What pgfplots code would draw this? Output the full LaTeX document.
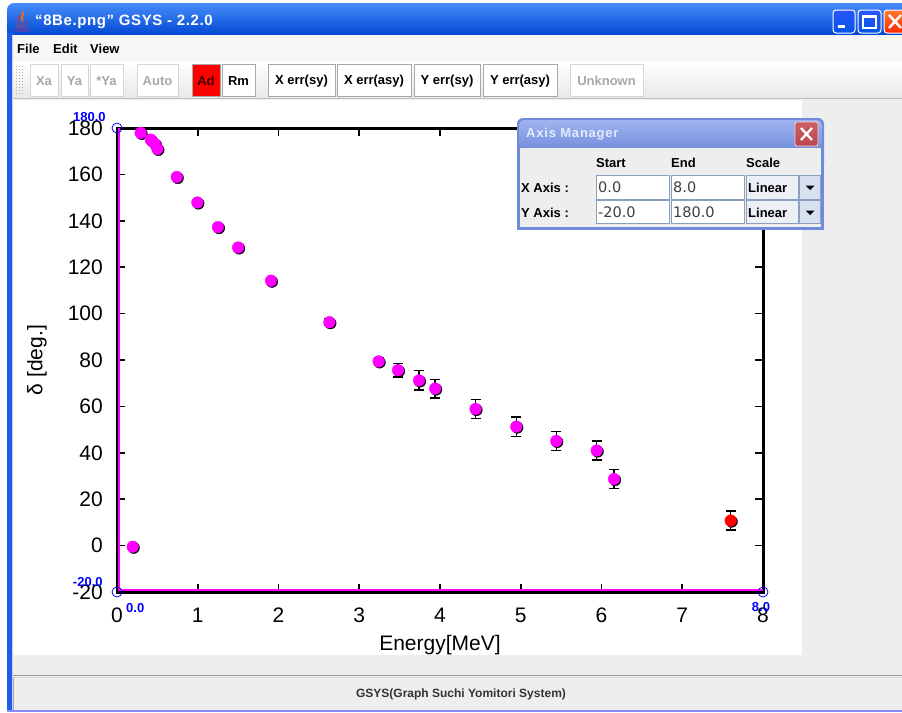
\documentclass[border=0pt]{standalone}
\usepackage{pgfplots}
\pgfplotsset{compat=1.18}
\usepackage{pgfplotstable}
\usepackage{fontspec}
\setmainfont{Liberation Sans}
\newfontfamily\dejavu{DejaVu Sans}
\newfontfamily\spaced[LetterSpace=6]{Liberation Sans}
\newfontfamily\titlefont[LetterSpace=4]{Liberation Sans}
\newcommand\fs[1]{\fontsize{#1}{#1}\selectfont}
\definecolor{tbA}{RGB}{70,140,250}
\definecolor{tbB}{RGB}{0,86,230}
\definecolor{tbC}{RGB}{2,72,210}
\definecolor{winbd}{RGB}{28,92,230}
\definecolor{guigrey}{RGB}{238,238,238}
\definecolor{txdis}{RGB}{168,168,168}
\definecolor{bddis}{RGB}{214,214,214}
\definecolor{bden}{RGB}{168,168,168}
\definecolor{txad}{RGB}{60,0,0}
\definecolor{dlgA}{RGB}{160,180,238}
\definecolor{dlgB}{RGB}{118,144,222}
\definecolor{dlgbd}{RGB}{112,138,220}
\definecolor{dlgtitle}{RGB}{228,236,252}
\definecolor{fieldbd}{RGB}{140,160,190}
\definecolor{combo}{RGB}{236,240,246}
\definecolor{arrowbg}{RGB}{214,224,240}
\definecolor{closeA}{RGB}{205,95,100}
\definecolor{closeB}{RGB}{185,70,80}
\definecolor{pink}{RGB}{255,0,255}

\pgfplotstableread{
x y
0.194 -0.5
0.293 177.9
0.417 175.0
0.470 173.1
0.500 171.0
0.740 158.9
0.995 147.9
1.250 137.3
1.500 128.5
1.907 114.2
}\plainpts
\pgfplotstableread{
x y e
2.630 96.3 1.5
3.240 79.4 1.5
3.480 75.6 3.0
3.740 71.2 4.2
3.940 67.7 4.0
4.440 58.9 4.1
4.945 51.3 4.2
5.440 45.1 4.1
5.940 41.0 4.0
6.155 28.7 4.0
}\errpts
\pgfplotstableread{
x y e
7.600 10.8 4.1
}\redpts

\begin{document}
\begin{tikzpicture}
\useasboundingbox (0pt,0pt) rectangle (902pt,-712pt);
\begin{scope}[x=1pt,y=-1pt]
  \fill[white] (0,0) rectangle (902,712);
  % title bar
  \shade[top color=tbA, middle color=tbB, bottom color=tbC]
    (7,35) [rounded corners=7pt] -- (7,3) -- (910,3) [sharp corners] -- (910,35) -- cycle;
  % icon
  \fill[blue!35!gray] (15,22) -- (28,22) -- (26,29) -- (17,29) -- cycle;
  \fill[blue!45!gray] (22,30) ellipse [x radius=9, y radius=2];
  \draw[blue!35!gray, line width=1pt] (28,24) arc[start angle=-90, end angle=90, radius=-2];
  \fill[orange!85!red] (21,11) .. controls (25,15) and (18,17) .. (22,21) -- (23.5,21) .. controls (20,17) and (27,15) .. (22.5,11) -- cycle;
  \fill[red!80!orange] (18,15) .. controls (20,17) and (17,19) .. (19,21) -- (20,21) .. controls (18,19) and (21,17) .. (19,15) -- cycle;
  \node[anchor=west, inner sep=0, text=white, font=\fs{15}\titlefont\bfseries] at (35,22) {“8Be.png” GSYS - 2.2.0};
  % window buttons
  \shade[top color=blue!40!tbA, bottom color=tbB, draw=white, line width=1pt, rounded corners=3pt] (833,10) rectangle (855,33);
  \fill[white] (838,25) rectangle (845,28);
  \shade[top color=blue!40!tbA, bottom color=tbB, draw=white, line width=1pt, rounded corners=3pt] (858,10) rectangle (881,33);
  \draw[white, line width=1.2pt] (863,16) rectangle (876,28);
  \fill[white] (863,15.5) rectangle (876,18);
  \shade[top color=orange!70!red!80, bottom color=red!70!orange, draw=white, line width=1pt, rounded corners=3pt] (884,10) rectangle (908,33);
  \draw[white, line width=2.4pt] (889,15) -- (901,28) (901,15) -- (889,28);
  % window left border
  \fill[winbd] (7,33) rectangle (13,712);
  \fill[blue!20!white] (12,35) rectangle (13,712);
  % menu bar
  \fill[black!3] (13,35) rectangle (902,61);
  \node[anchor=west, inner sep=0, font=\fs{13}\bfseries] at (17,49) {File};
  \node[anchor=west, inner sep=0, font=\fs{13}\bfseries] at (53,49) {Edit};
  \node[anchor=west, inner sep=0, font=\fs{13}\bfseries] at (90,49) {View};
  % toolbar
  \shade[top color=white, bottom color=black!9] (13,61) rectangle (902,98);
  \draw[black!25, line width=1pt] (13,98) -- (902,98);
  \foreach \yy in {66,69,...,94} \foreach \xx in {16,19,22} \fill[black!30] (\xx,\yy) rectangle ++(1.3,1.3);
  \foreach \xa/\xb/\lbl/\tc/\fc/\dc in {30/58/Xa/txdis/white/bddis, 61/88/Ya/txdis/white/bddis, 90/123/*Ya/txdis/white/bddis, 137/178/Auto/txdis/white/bddis, 192/220/Ad/txad/red/bden, 222/255/Rm/black/white/bden, 268/335/X err(sy)/black/white/bden, 337/411/X err(asy)/black/white/bden, 414/480/Y err(sy)/black/white/bden, 483/557/Y err(asy)/black/white/bden, 570/643/Unknown/txdis/white/bddis}{
    \filldraw[fill=\fc, draw=\dc, line width=1pt] (\xa,64) rectangle (\xb,96);
    \node[text=\tc, font=\fs{13}\bfseries, inner sep=0] at ({(\xa+\xb)/2},81) {\lbl};
  }
  % canvas and surrounding grey
  \fill[guigrey] (13,99) rectangle (902,712);
  \fill[white] (13,99.5) rectangle (802,655);
  \draw[black!40, line width=1pt] (13,675.5) -- (902,675.5);
  \draw[black!15, line width=1pt] (13,677.5) -- (902,677.5);
  \draw[black!35, line width=1pt] (13.5,678) -- (13.5,710);
  \fill[blue!45!white] (7,709.5) rectangle (902,712);
  \node[font=\fs{12}\bfseries, text=black!80, inner sep=0] at (461,694) {GSYS(Graph Suchi Yomitori System)};
\end{scope}

\begin{axis}[
  scale only axis, width=646pt, height=464pt,
  at={(117pt,-592pt)}, anchor=south west,
  xmin=0, xmax=8, ymin=-20, ymax=180,
  clip=false,
  axis line style={black, line width=3pt},
  xtick={0,1,...,8}, xticklabels={0,1,2,3,4,5,6,7,8},
  ytick={-20,0,...,180}, yticklabels={-20,0,20,40,60,80,100,120,140,160,180},
  tick align=inside, major tick length=8pt,
  every tick/.style={black, line width=1.6pt},
  xticklabel style={font=\fs{21}, inner sep=0pt, anchor=north, yshift=-16pt},
  yticklabel style={font=\fs{21}, inner sep=0pt, anchor=east, xshift=-14pt},
  xlabel={Energy[MeV]}, ylabel={δ [deg.]},
  xlabel style={font=\fs{21}, at={(axis description cs:0.5,-0.0927)}, anchor=north, inner sep=0pt},
  ylabel style={font=\fs{21}, at={(axis description cs:-0.1238,0.5)}, anchor=center, inner sep=0pt},
]
  \draw[pink, line width=1.6pt] ([xshift=2pt]axis cs:0,180) -- ([xshift=2pt,yshift=2pt]axis cs:0,-20) -- ([yshift=2pt]axis cs:8,-20);
  % shadows
  \addplot[only marks, mark=*, mark size=5.8pt, black, mark options={xshift=1pt, yshift=-1pt}] table {\plainpts};
  \addplot[only marks, mark=*, mark size=5.8pt, black, mark options={xshift=1pt, yshift=-1pt},
    error bars/.cd, y dir=both, y explicit,
    error bar style={line width=1.5pt, black},
    error mark options={rotate=90, mark size=5pt, line width=1.5pt, black}]
    table[y error=e] {\errpts};
  \addplot[only marks, mark=*, mark size=5.8pt, black, mark options={xshift=1pt, yshift=-1pt},
    error bars/.cd, y dir=both, y explicit,
    error bar style={line width=1.5pt, black},
    error mark options={rotate=90, mark size=5pt, line width=1.5pt, black}]
    table[y error=e] {\redpts};
  % coloured marks
  \addplot[only marks, mark=*, mark size=5.8pt, mark options={draw=pink, fill=pink}] table {\plainpts};
  \addplot[only marks, mark=*, mark size=5.8pt, mark options={draw=pink, fill=pink}] table {\errpts};
  \addplot[only marks, mark=*, mark size=5.8pt, mark options={draw=red, fill=red}] table {\redpts};
  % calibration markers
  \addplot[only marks, mark=o, mark size=5pt, blue, mark options={line width=0.8pt},
    nodes near coords={180.0}, every node near coord/.append style={font=\fs{13}\bfseries, text=blue, inner sep=0pt, anchor=east, xshift=-11pt, yshift=11pt}]
    coordinates {(0,180)};
  \addplot[only marks, mark=o, mark size=5pt, blue, mark options={line width=0.8pt},
    nodes near coords={-20.0}, every node near coord/.append style={font=\fs{13}\bfseries, text=blue, inner sep=0pt, anchor=east, xshift=-14pt, yshift=10pt}]
    coordinates {(0,-20)};
  \addplot[only marks, mark=none, draw=none,
    nodes near coords={0.0}, every node near coord/.append style={font=\fs{13}\bfseries, text=blue, inner sep=0pt, anchor=west, xshift=9pt, yshift=-16pt}]
    coordinates {(0,-20)};
  \addplot[only marks, mark=o, mark size=5pt, blue, mark options={line width=0.8pt},
    nodes near coords={8.0}, every node near coord/.append style={font=\fs{13}\bfseries, text=blue, inner sep=0pt, anchor=center, xshift=-2pt, yshift=-15.5pt}]
    coordinates {(8,-20)};
\end{axis}

\begin{scope}[x=1pt,y=-1pt]
  % Axis Manager dialog
  \fill[dlgbd, rounded corners=6pt] (517,118) rectangle (824,170);
  \fill[dlgbd] (517,150) rectangle (824,230);
  \shade[top color=dlgA, bottom color=dlgB, rounded corners=5pt] (519,120) -- (822,120) -- (822,148) -- (519,148) -- cycle;
  \fill[guigrey] (520,148) rectangle (821,227);
  \node[anchor=west, inner sep=0, text=dlgtitle, font=\fs{13}\bfseries\spaced] at (526,134) {Axis Manager};
  \shade[top color=closeA, bottom color=closeB, draw=red!20!white, line width=0.8pt, rounded corners=2pt] (795,122) rectangle (818,146);
  \draw[white, line width=2.3pt] (801,128) -- (812,140) (812,128) -- (801,140);
  \node[anchor=west, inner sep=0, font=\fs{13}\bfseries] at (596,163) {Start};
  \node[anchor=west, inner sep=0, font=\fs{13}\bfseries] at (671,163) {End};
  \node[anchor=west, inner sep=0, font=\fs{13}\bfseries] at (746,163) {Scale};
  \node[anchor=west, inner sep=0, font=\fs{13}\bfseries] at (521,188) {X Axis :};
  \node[anchor=west, inner sep=0, font=\fs{13}\bfseries] at (521,213) {Y Axis :};
  \foreach \ya/\yb/\yc/\va/\vb in {175/199/187/0.0/8.0, 200/223/212/-20.0/180.0}{
    \filldraw[fill=white, draw=fieldbd, line width=0.8pt] (596,\ya) rectangle (669,\yb);
    \filldraw[fill=white, draw=fieldbd, line width=0.8pt] (671,\ya) rectangle (744,\yb);
    \filldraw[fill=combo, draw=fieldbd, line width=0.8pt] (746,\ya) rectangle (798,\yb);
    \filldraw[fill=arrowbg, draw=fieldbd, line width=0.8pt] (799,\ya) rectangle (820,\yb);
    \fill[black] (805.5,\yc-1.5) -- (814.5,\yc-1.5) -- (810,\yc+3) -- cycle;
    \node[anchor=west, inner sep=0, font=\fs{14.5}\dejavu, text=black!75] at (598,\yc) {\va};
    \node[anchor=west, inner sep=0, font=\fs{14.5}\dejavu, text=black!75] at (673,\yc) {\vb};
    \node[anchor=west, inner sep=0, font=\fs{13}\bfseries] at (748,\yc+0.5) {Linear};
  }
\end{scope}
\end{tikzpicture}
\end{document}
